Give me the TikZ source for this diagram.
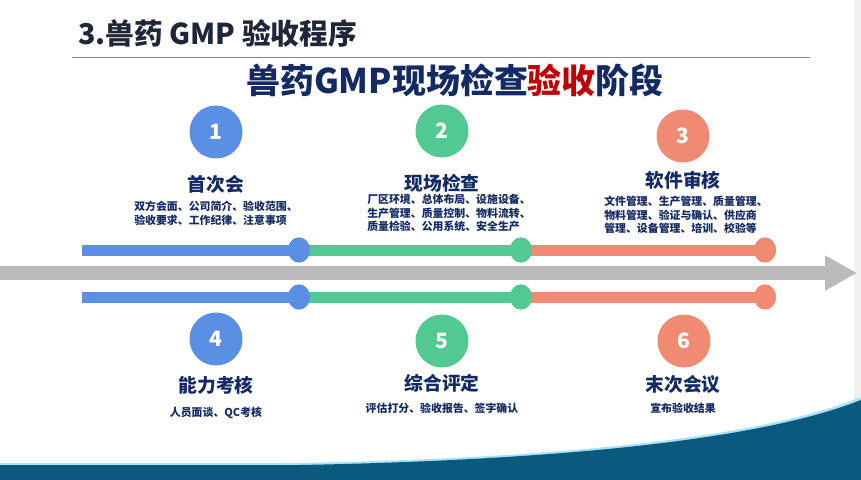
\documentclass[tikz,border=0pt]{standalone}
\usepackage{fontspec}
\setmainfont{Noto Sans CJK SC}
\usetikzlibrary{arrows.meta,shapes.geometric}

\definecolor{navy}{HTML}{132A63}
\definecolor{ink}{HTML}{1E2638}
\definecolor{hired}{HTML}{C00000}
\definecolor{cblue}{HTML}{5B8FE3}
\definecolor{cgreen}{HTML}{52C893}
\definecolor{cred}{HTML}{F08A72}
\definecolor{wave}{HTML}{0B5A7E}

\tikzset{
  numdot/.style={circle, minimum size=53*0.03cm, inner sep=0pt, text=white, font=\bfseries\fontsize{18}{18}\selectfont},
  phase/.style={text=navy, font=\bfseries\fontsize{16}{16}\selectfont},
  detail/.style={text=navy, align=left, anchor=north, inner sep=0pt, font=\bfseries\fontsize{9.3}{11.5}\selectfont},
  knot/.style={ellipse, minimum width=22*0.03cm, minimum height=25*0.03cm, inner sep=0pt},
  bar/.style={line width=11*0.03cm}
}

\begin{document}
\begin{tikzpicture}[x=0.03cm, y=-0.03cm]
\useasboundingbox (0,0) rectangle (861,480);
\fill[white] (0,0) rectangle (861,480);
\fill[black!6] (854,0) rectangle (861,480);

% background wave
\fill[cyan!35!white] (0,463) -- (300,463) .. controls (560,458) and (760,438) .. (861,397) -- (861,480) -- (0,480) -- cycle;
\fill[wave] (0,465) -- (300,465) .. controls (560,460) and (760,440) .. (861,400) -- (861,480) -- (0,480) -- cycle;

% headings
\node[anchor=west, inner sep=0pt, text=ink, font=\bfseries\fontsize{24.5}{25}\selectfont] at (78,33) (title) {3.兽药 GMP 验收程序};
\draw[black!45, line width=0.8pt] (72,57) -- (810,57);
\node[text=navy, font=\bfseries\fontsize{29}{30}\selectfont] at (455,80) (head) {兽药GMP现场检查\textcolor{hired}{验收}阶段};

% time axis
\coordinate (ax0) at (0,273);
\coordinate (ax1) at (857,273);
\draw[black!27, line width=14*0.03cm, -{Triangle[length=32*0.03cm, width=33*0.03cm]}] (ax0) -- (ax1);

\coordinate (ua) at (82,250);
\node[knot, fill=cblue] at (299,250) (u1) {};
\node[knot, fill=cgreen] at (521,250) (u2) {};
\node[knot, fill=cred] at (765,250) (u3) {};
\draw[bar, cblue] (ua) -- (u1.center);
\draw[bar, cgreen] (u1.center) -- (u2.center);
\draw[bar, cred] (u2.center) -- (u3.center);
\node[knot, fill=cblue] at (299,250) {};
\node[knot, fill=cgreen] at (521,250) {};
\node[knot, fill=cred] at (765,250) {};

\coordinate (la) at (82,297);
\node[knot, fill=cblue] at (299,297) (l1) {};
\node[knot, fill=cgreen] at (521,297) (l2) {};
\node[knot, fill=cred] at (765,297) (l3) {};
\draw[bar, cblue] (la) -- (l1.center);
\draw[bar, cgreen] (l1.center) -- (l2.center);
\draw[bar, cred] (l2.center) -- (l3.center);
\node[knot, fill=cblue] at (299,297) {};
\node[knot, fill=cgreen] at (521,297) {};
\node[knot, fill=cred] at (765,297) {};

% upper steps
\node[numdot, fill=cblue] at (216,132) (s1) {1};
\node[phase] at (216,184) (p1) {首次会};
\node[detail] at (216,201) (d1) {双方会面、公司简介、验收范围、\\验收要求、工作纪律、注意事项};

\node[numdot, fill=cgreen] at (442,131) (s2) {2};
\node[phase] at (442,183) (p2) {现场检查};
\node[detail] at (449,194) (d2) {厂区环境、总体布局、设施设备、\\生产管理、质量控制、物料流转、\\质量检验、公用系统、安全生产};

\node[numdot, fill=cred] at (683,136) (s3) {3};
\node[phase] at (683,180) (p3) {软件审核};
\node[detail] at (686,196) (d3) {文件管理、生产管理、质量管理、\\物料管理、验证与确认、供应商\\管理、设备管理、培训、校验等};

% lower steps
\node[numdot, fill=cblue] at (216,339) (s4) {4};
\node[phase] at (216,385) (p4) {能力考核};
\node[detail, anchor=center] at (216,413) (d4) {人员面谈、QC考核};

\node[numdot, fill=cgreen] at (442,341) (s5) {5};
\node[phase] at (442,383) (p5) {综合评定};
\node[detail, anchor=center] at (442,408) (d5) {评估打分、验收报告、签字确认};

\node[numdot, fill=cred] at (684,341) (s6) {6};
\node[phase] at (683,384) (p6) {末次会议};
\node[detail, anchor=center] at (683,408) (d6) {宣布验收结果};
\end{tikzpicture}
\end{document}
